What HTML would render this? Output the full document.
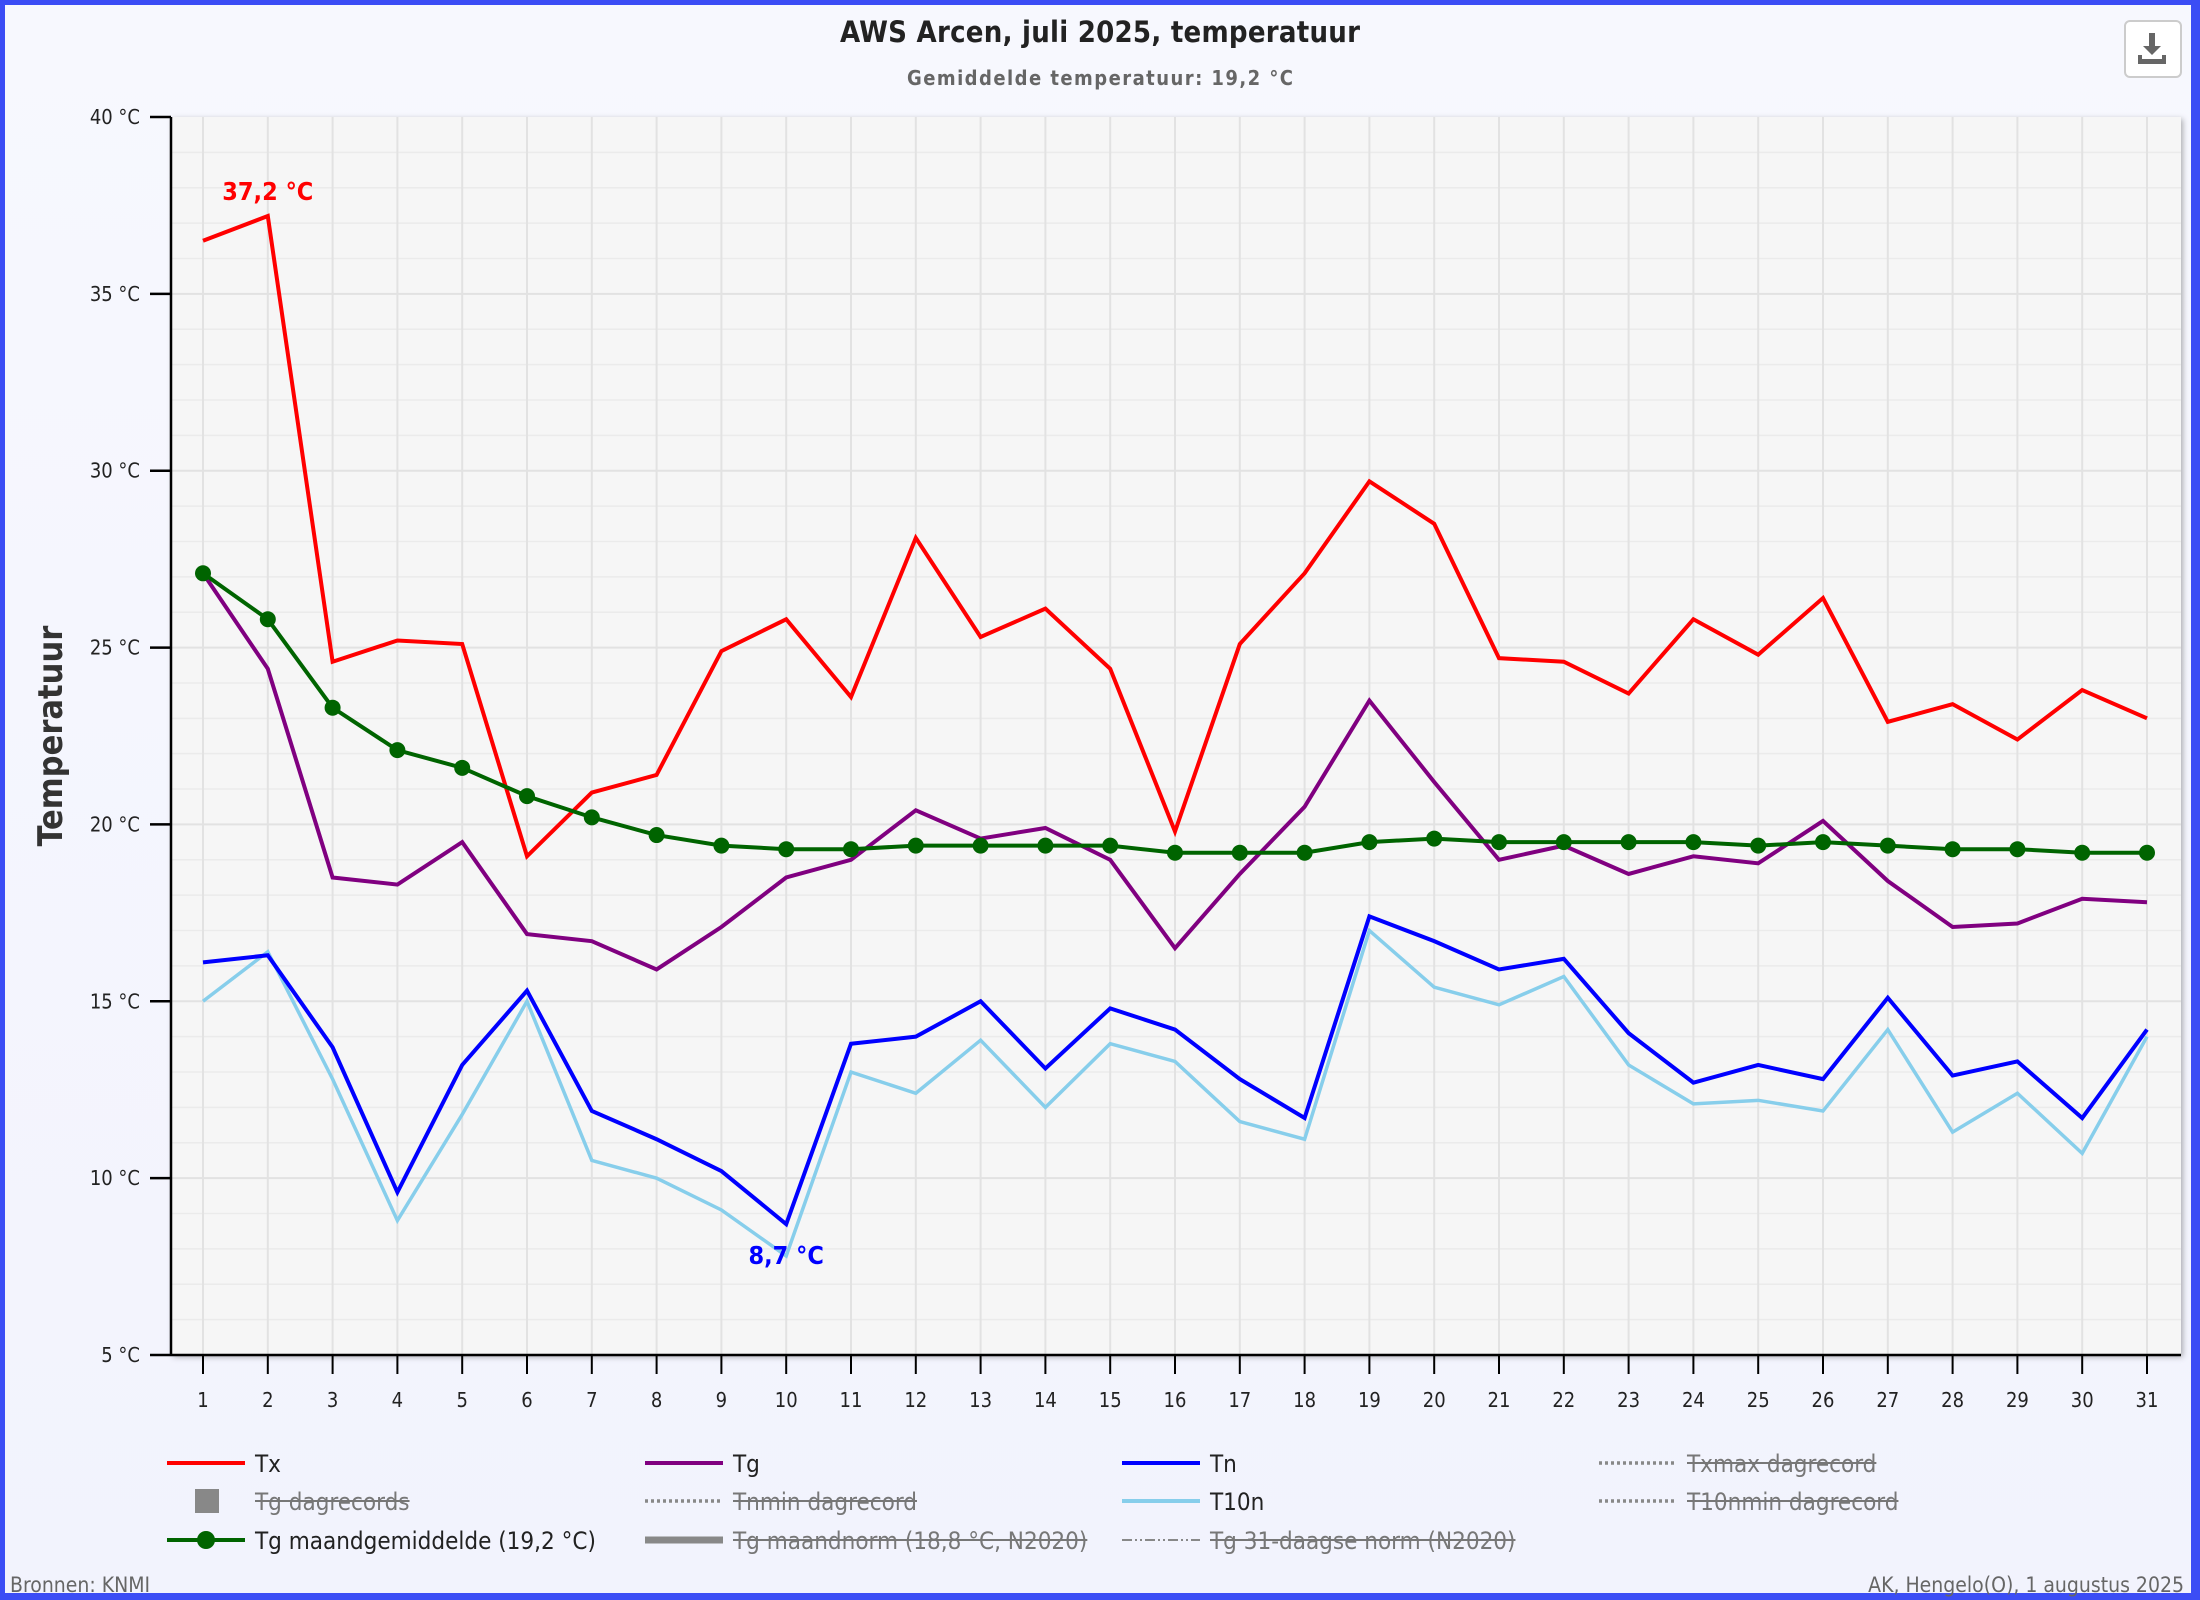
<!DOCTYPE html>
<html><head><meta charset="utf-8"><style>
html,body{margin:0;padding:0;}
body{width:2200px;height:1600px;overflow:hidden;background:#3b4df5;}
#page{position:absolute;left:5px;top:5px;width:2186px;height:1588px;background:linear-gradient(180deg,#f7f8fe,#f2f3fd);}
text{font-family:"DejaVu Sans Condensed","DejaVu Sans","Liberation Sans",sans-serif;}
</style></head><body>
<div id="page"></div>
<svg id="chart" width="2200" height="1600" style="position:absolute;left:0;top:0">
<defs><filter id="sh" x="-5%" y="-5%" width="110%" height="110%"><feDropShadow dx="2" dy="2" stdDeviation="3" flood-color="#000" flood-opacity="0.3"/></filter></defs>
<text x="1100" y="42" text-anchor="middle" font-size="29" font-weight="bold" fill="#222" textLength="520">AWS Arcen, juli 2025, temperatuur</text>
<text x="1100" y="85" text-anchor="middle" font-size="20" font-weight="bold" fill="#666" textLength="386">Gemiddelde temperatuur: 19,2 °C</text>
<g>
<rect x="2125" y="21" width="56" height="56" rx="5" fill="#fff" stroke="#ccc" stroke-width="2"/>
<path d="M2149 33h6v13h6l-9 9-9-9h6z M2138 55h4v4h20v-4h4v9h-28z" fill="#666"/>
</g>
<rect x="171" y="117" width="2010" height="1238" fill="#f6f6f6" filter="url(#sh)"/>
<g id="grid"></g>
<g id="series"></g>
<g id="axes"></g>
<text transform="translate(62,736) rotate(-90)" text-anchor="middle" font-family="Liberation Sans" font-size="34" font-weight="bold" fill="#333">Temperatuur</text>
<g id="legend" font-size="22"></g>
<text x="10" y="1592" font-family="Liberation Sans" font-size="21" fill="#666">Bronnen: KNMI</text>
<text x="2184" y="1592" text-anchor="end" font-family="Liberation Sans" font-size="21" fill="#666">AK, Hengelo(O), 1 augustus 2025</text>
</svg>
<script>
const days = Array.from({length:31},(_,i)=>i+1);
const tx = [36.5,37.2,24.6,25.2,25.1,19.1,20.9,21.4,24.9,25.8,23.6,28.1,25.3,26.1,24.4,19.8,25.1,27.1,29.7,28.5,24.7,24.6,23.7,25.8,24.8,26.4,22.9,23.4,22.4,23.8,23.0];
const tg = [27.1,24.4,18.5,18.3,19.5,16.9,16.7,15.9,17.1,18.5,19.0,20.4,19.6,19.9,19.0,16.5,18.6,20.5,23.5,21.2,19.0,19.4,18.6,19.1,18.9,20.1,18.4,17.1,17.2,17.9,17.8];
const tn = [16.1,16.3,13.7,9.6,13.2,15.3,11.9,11.1,10.2,8.7,13.8,14.0,15.0,13.1,14.8,14.2,12.8,11.7,17.4,16.7,15.9,16.2,14.1,12.7,13.2,12.8,15.1,12.9,13.3,11.7,14.2];
const t10n = [15.0,16.4,12.8,8.8,11.8,15.0,10.5,10.0,9.1,7.8,13.0,12.4,13.9,12.0,13.8,13.3,11.6,11.1,17.0,15.4,14.9,15.7,13.2,12.1,12.2,11.9,14.2,11.3,12.4,10.7,14.0];
const tgMean = [27.1,25.8,23.3,22.1,21.6,20.8,20.2,19.7,19.4,19.3,19.3,19.4,19.4,19.4,19.4,19.2,19.2,19.2,19.5,19.6,19.5,19.5,19.5,19.5,19.4,19.5,19.4,19.3,19.3,19.2,19.2];
const yTicks = [5,10,15,20,25,30,35,40];

const NS='http://www.w3.org/2000/svg';
const X0=171,X1=2181,Y0=117,Y1=1355;
const xs=d=>203+(d-1)*(2147-203)/30;
const ys=v=>Y1-(v-5)*(Y1-Y0)/35;
function mk(tag,attrs,parent){const e=document.createElementNS(NS,tag);for(const k in attrs)e.setAttribute(k,attrs[k]);parent.appendChild(e);return e;}
const grid=document.getElementById('grid'),ser=document.getElementById('series'),axes=document.getElementById('axes'),leg=document.getElementById('legend');
for(let v=6;v<40;v++){const l=mk('line',{x1:X0,x2:X1,y1:ys(v),y2:ys(v),stroke:v%5?'#ebebeb':'#e2e2e2','stroke-width':v%5?1.5:2},grid);

}
days.forEach(d=>{const l=mk('line',{x1:xs(d),x2:xs(d),y1:Y0,y2:Y1,stroke:'#e2e2e2','stroke-width':2},grid);

});
mk('line',{x1:X0,x2:X0,y1:Y0,y2:Y1+1,stroke:'#000','stroke-width':2.5},axes);
mk('line',{x1:X0,x2:X1,y1:Y1,y2:Y1,stroke:'#000','stroke-width':2.5},axes);
yTicks.forEach(v=>{mk('line',{x1:150,x2:X0,y1:ys(v),y2:ys(v),stroke:'#000','stroke-width':2.5},axes);
const t=mk('text',{x:140,y:ys(v)+7,'text-anchor':'end','font-size':20,fill:'#222'},axes);t.textContent=v+' °C';

});
days.forEach(d=>{mk('line',{x1:xs(d),x2:xs(d),y1:Y1,y2:Y1+19,stroke:'#000','stroke-width':2},axes);
const t=mk('text',{x:xs(d),y:Y1+52,'text-anchor':'middle','font-size':20,fill:'#222'},axes);t.textContent=d;

});
function line(arr,col,w,name){const p=mk('polyline',{points:arr.map((v,i)=>xs(days[i])+','+ys(v)).join(' '),fill:'none',stroke:col,'stroke-width':w,'stroke-linejoin':'miter'},ser);

}
line(t10n,'#87ceeb',3.5,'t10n-line');
line(tn,'#0000ff',4,'tn-line');
line(tg,'#800080',4,'tg-line');
line(tx,'#ff0000',4,'tx-line');
line(tgMean,'#006400',4,'tg-mean-line');
tgMean.forEach((v,i)=>{const c=mk('circle',{cx:xs(days[i]),cy:ys(v),r:8,fill:'#006400'},ser);

});
const imax=tx.indexOf(Math.max(...tx)), imin=tn.indexOf(Math.min(...tn));
let t=mk('text',{x:xs(days[imax]),y:ys(tx[imax])-16,'text-anchor':'middle','font-family':'Liberation Sans','font-size':25,'font-weight':'bold',fill:'#ff0000'},ser);
t.textContent=String(tx[imax].toFixed(1)).replace('.',',')+' °C';


t=mk('text',{x:xs(days[imin]),y:ys(tn[imin])+40,'text-anchor':'middle','font-family':'Liberation Sans','font-size':25,'font-weight':'bold',fill:'#0000ff'},ser);
t.textContent=String(tn[imin].toFixed(1)).replace('.',',')+' °C';


// legend
const cols=[167,645,1122,1599], rows=[1463,1501,1540];
const items=[
 [0,0,'Tx','solid','#ff0000',false],[1,0,'Tg','solid','#800080',false],[2,0,'Tn','solid','#0000ff',false],[3,0,'Txmax dagrecord','dot','#888',true],
 [0,1,'Tg dagrecords','box','#888',true],[1,1,'Tnmin dagrecord','dot','#888',true],[2,1,'T10n','solid','#87ceeb',false],[3,1,'T10nmin dagrecord','dot','#888',true],
 [0,2,'Tg maandgemiddelde (19,2 °C)','marker','#006400',false],[1,2,'Tg maandnorm (18,8 °C, N2020)','thick','#888',true],[2,2,'Tg 31-daagse norm (N2020)','dashdot','#888',true]];
items.forEach(([c,r,label,st,col,off])=>{
 const g=mk('g',{},leg);
 
 
 const x=cols[c],y=rows[r];
 if(st==='box') mk('rect',{x:x+28,y:y-12,width:24,height:24,fill:col},g);
 else {
  const a={x1:x,x2:x+78,y1:y,y2:y,stroke:col,'stroke-width':4};
  if(st==='dot'){a['stroke-dasharray']='3,3';a['stroke-width']=3.5;}
  if(st==='thick')a['stroke-width']=7;
  if(st==='dashdot'){a['stroke-dasharray']='10,3,2,3,2,3';a['stroke-width']=2;}
  mk('line',a,g);
  if(st==='marker')mk('circle',{cx:x+39,cy:y,r:9,fill:col},g);
 }
 const tt=mk('text',{x:x+88,y:y+9,'font-size':24,fill:off?'#777':'#222'},g);
 tt.textContent=label;
 if(off){const w=tt.getComputedTextLength();mk('line',{x1:x+88,x2:x+88+w,y1:y,y2:y,stroke:'#777','stroke-width':2},g);}
});
</script>
</body></html>
